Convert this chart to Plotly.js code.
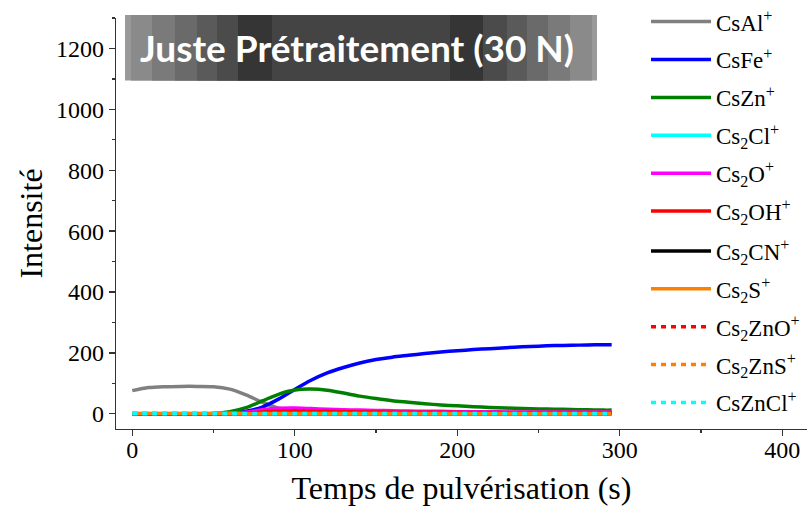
<!DOCTYPE html>
<html>
<head>
<meta charset="utf-8">
<script src="https://cdn.plot.ly/plotly-3.0.1.min.js"></script>
<style>html,body{margin:0;padding:0;background:#fff;}#chart{width:807px;height:509px;}</style>
</head>
<body>
<div id="chart"></div>
<script>
// ---- data ----
const time = [0,10,20,30,40,50,60,70,80,90,100,110,120,130,140,150,160,170,180,190,200,210,220,230,240,250,260,270,280,290,295];

const csAl   = [76,86,89,90,90,89,81,62,38,18,10,7,5,4,4,3,3,3,3,3,2,2,2,2,2,2,2,2,2,2,2];
const csFe   = [0,0,0,0,0,0,2,8,22,48,80,110,134,152,167,178,186,192,198,203,207,211,214,217,220,222,224,225,226,227,227];
const csZn   = [0,0,0,0,0,1,7,20,42,64,78,81,77,68,58,50,43,38,33,29,26,23,21,19,17,16,15,14,13,12,12];
const cs2Cl  = [2,2,2,2,2,2,2,3,4,5,5,5,5,5,4,4,4,4,4,4,4,4,4,4,4,4,4,4,4,4,4];
const cs2O   = [0,0,0,0,0,0,1,5,13,18,19,17,15,13,12,11,10,9,8,8,7,7,7,6,6,6,6,6,6,6,6];
const cs2OH  = [0,0,0,0,0,0,0,2,6,9,10,9,8,7,6,6,5,5,5,5,5,4,4,4,4,4,4,4,4,4,4];
const cs2CN  = [0,0,0,0,0,0,0,0,0,0,0,0,0,0,0,0,0,0,0,0,0,0,0,0,0,0,0,0,0,0,0];
const cs2S   = [0,0,0,0,0,0,0,0,1,1,1,1,1,1,1,1,1,1,1,1,1,1,1,1,1,1,1,1,1,1,1];
const cs2ZnO = [1,1,1,1,1,1,1,1,1,1,1,1,1,1,1,1,1,1,1,1,1,1,1,1,1,1,1,1,1,1,1];
const cs2ZnS = [0,0,0,0,0,0,0,0,0,0,0,0,0,0,0,0,0,0,0,0,0,0,0,0,0,0,0,0,0,0,0];
const csZnCl = [1,1,1,1,1,1,1,1,1,1,1,1,1,1,1,1,1,1,1,1,1,1,1,1,1,1,1,1,1,1,1];

const seriesNames = ["CsAl<sup>+</sup>","CsFe<sup>+</sup>","CsZn<sup>+</sup>","Cs<sub>2</sub>Cl<sup>+</sup>","Cs<sub>2</sub>O<sup>+</sup>","Cs<sub>2</sub>OH<sup>+</sup>","Cs<sub>2</sub>CN<sup>+</sup>","Cs<sub>2</sub>S<sup>+</sup>","Cs<sub>2</sub>ZnO<sup>+</sup>","Cs<sub>2</sub>ZnS<sup>+</sup>","CsZnCl<sup>+</sup>"];
const seriesValues = [csAl,csFe,csZn,cs2Cl,cs2O,cs2OH,cs2CN,cs2S,cs2ZnO,cs2ZnS,csZnCl];
const seriesColors = ["#808080","#0000ff","#008000","#00ffff","#ff00ff","#ff0000","#000000","#ff8000","#ff0000","#ff8000","#00ffff"];
const seriesDash = ["solid","solid","solid","solid","solid","solid","solid","solid","5px,5px","5px,5px","5px,5px"];

const xTickVals = [0,100,200,300,400];
const yTickVals = [0,200,400,600,800,1000,1200];
const titleText = "Juste Prétraitement (30 N)";

// ---- layout geometry ----
const W = 807, H = 509;
const M = {l:116, r:0, t:15, b:80};
const PW = W - M.l - M.r, PH = H - M.t - M.b;
const px = x => (x - M.l) / PW;
const py = y => (H - M.b - y) / PH;

const traces = seriesValues.map((v,i) => ({
  x: time, y: v, type: 'scatter', mode: 'lines', name: seriesNames[i],
  legendgroup: 'g'+i, legend: i < 6 ? 'legend' : 'legend2',
  line: {color: seriesColors[i], width: 3.5, dash: seriesDash[i], shape: 'spline', smoothing: 0.8}
}));

// stepped grey banner (outer to inner bands)
const bands = [
  [125,597,'#9a9a9a'],
  [131,592,'#8a8a8a'],
  [152,570,'#7a7a7a'],
  [175,548,'#6a6a6a'],
  [197,527,'#5a5a5a'],
  [217,507,'#4b4b4b'],
  [238,483,'#353535'],
  [272,450,'#444444']
];
const shapes = bands.map(b => ({
  type:'rect', xref:'paper', yref:'paper', layer:'above',
  x0:px(b[0]), x1:px(b[1]), y0:py(78), y1:py(12),
  fillcolor:b[2], line:{width:0}
}));

const serif = 'Liberation Serif';
const legendBase = {
  x: px(646), xanchor:'left', yanchor:'top',
  bgcolor:'rgba(0,0,0,0)', borderwidth:0,
  font:{family:serif, size:23, color:'#000'},
  traceorder:'grouped', tracegroupgap:5, itemwidth:60
};
const layout = {
  width: W, height: H, margin: M,
  font:{family:serif, size:22, color:'#000'},
  paper_bgcolor:'#fff', plot_bgcolor:'#fff',
  showlegend: true,
  xaxis: {
    range:[-10, 415.2], tickvals:xTickVals, ticks:'outside', ticklen:6, tickwidth:1.3,
    showline:true, linecolor:'#333', linewidth:1.3, showgrid:false, zeroline:false,
    tickfont:{family:serif, size:24, color:'#000'}, ticklabelstandoff:-7,
    minor:{dtick:50, tick0:0, ticks:'outside', ticklen:3, tickwidth:1.3, tickcolor:'#333'},
    tickcolor:'#333',
    title:{text:'Temps de pulvérisation (s)', font:{family:serif, size:32, color:'#000'}, standoff:14}
  },
  yaxis: {
    range:[-50,1300], tickvals:yTickVals, ticks:'outside', ticklen:6, tickwidth:1.3,
    showline:true, linecolor:'#333', linewidth:1.3, showgrid:false, zeroline:false,
    tickfont:{family:serif, size:24, color:'#000'}, ticklabelstandoff:0,
    minor:{dtick:100, tick0:0, ticks:'outside', ticklen:3, tickwidth:1.3, tickcolor:'#333'},
    tickcolor:'#333',
    title:{text:'Intensité', font:{family:serif, size:32, color:'#000'}, standoff:3}
  },
  legend: Object.assign({}, legendBase, {y: py(-3)}),
  legend2: Object.assign({}, legendBase, {y: py(228)}),
  shapes: shapes,
  annotations: [{
    text: titleText, xref:'paper', yref:'paper', x:px(357), y:py(45),
    xanchor:'center', yanchor:'middle', showarrow:false,
    font:{family:'Lato', size:37, color:'#ffffff', weight:'bold'}
  }]
};

Plotly.newPlot('chart', traces, layout, {displayModeBar:false, staticPlot:true});
</script>
</body>
</html>
